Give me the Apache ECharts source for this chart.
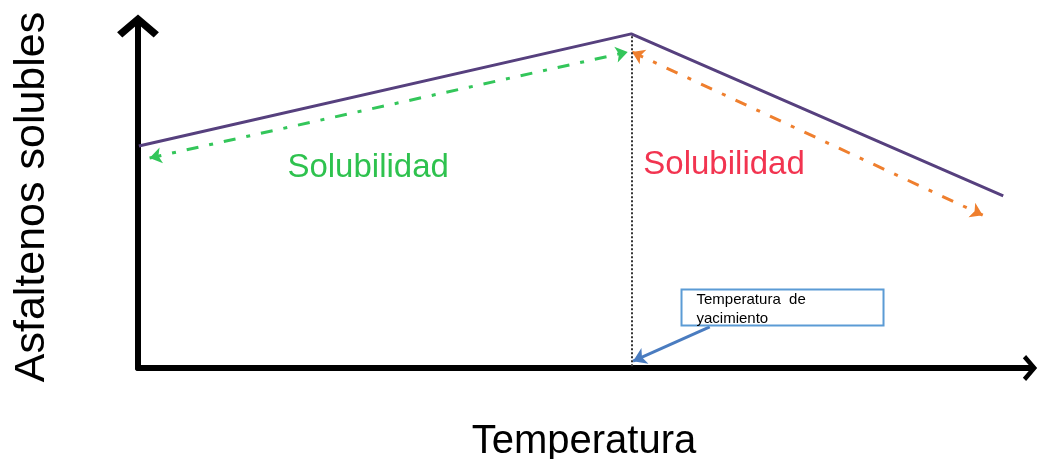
<!DOCTYPE html>
<html>
<head>
<meta charset="utf-8">
<script src="https://cdn.jsdelivr.net/npm/echarts@6/dist/echarts.min.js"></script>
<style>
  html, body { margin: 0; padding: 0; background: #fff; }
  #main { width: 1049px; height: 459px; }
</style>
</head>
<body>
<div id="main"></div>
<script>
// datos del diagrama (escala 0-100 en ambos ejes)
var solubilityCurve = [[0.1, 64.9], [55.3, 97.7], [97.0, 50.3]];
var risingArrow = [[1.3, 61.4], [54.9, 92.4]];
var fallingArrow = [[55.4, 92.4], [94.7, 44.7]];
var reservoirLine = [[55.3, 97.0], [55.3, 0]];
var pointerArrow = [[64.1, 12.0], [55.5, 2.0]];
var labelLeft = [25.8, 58.5];
var labelRight = [65.7, 59.4];
var boxCorner = [61.1, 22.5];
var labelText = 'Solubilidad';
var boxText = 'Temperatura  de\nyacimiento';

var myChart = echarts.init(document.getElementById('main'));

var chevron = 'path://M20,0 L40,17 L35,22 L20,9 L5,22 L0,17 Z';

var option = {
  animation: false,
  textStyle: { fontFamily: 'Liberation Sans' },
  grid: { left: 138, right: 19, top: 26, bottom: 91, outerBoundsMode: 'none' },
  xAxis: {
    type: 'value',
    min: 0,
    max: 100,
    name: 'Temperatura',
    nameLocation: 'middle',
    nameGap: 54,
    nameTextStyle: { fontSize: 40, color: '#000' },
    axisLine: {
      lineStyle: { color: '#000', width: 6 },
      symbol: ['none', chevron],
      symbolSize: [26, 35]
    },
    axisTick: { show: false },
    axisLabel: { show: false },
    splitLine: { show: false }
  },
  yAxis: {
    type: 'value',
    min: 0,
    max: 100,
    name: 'Asfaltenos solubles',
    nameLocation: 'middle',
    nameGap: 84,
    nameTextStyle: { fontSize: 43, color: '#000' },
    axisLine: {
      lineStyle: { color: '#000', width: 6 },
      symbol: ['none', chevron],
      symbolSize: [43, 23]
    },
    axisTick: { show: false },
    axisLabel: { show: false },
    splitLine: { show: false }
  },
  series: [
    {
      type: 'line',
      data: solubilityCurve,
      symbol: 'none',
      lineStyle: { color: '#56407e', width: 3 },
      z: 5
    },
    {
      type: 'lines',
      coordinateSystem: 'cartesian2d',
      symbol: ['arrow', 'arrow'],
      symbolSize: 12,
      data: [{ coords: risingArrow }],
      lineStyle: { color: '#33c65a', width: 3, type: [12, 11, 4, 11], opacity: 1 }
    },
    {
      type: 'lines',
      coordinateSystem: 'cartesian2d',
      symbol: ['arrow', 'arrow'],
      symbolSize: 12,
      data: [{ coords: fallingArrow }],
      lineStyle: { color: '#ef7f2e', width: 3, type: [12, 11, 4, 11], opacity: 1 }
    },
    {
      type: 'lines',
      coordinateSystem: 'cartesian2d',
      symbol: 'none',
      data: [{ coords: reservoirLine }],
      lineStyle: { color: '#333', width: 2, type: [2, 2], opacity: 1 }
    },
    {
      type: 'lines',
      coordinateSystem: 'cartesian2d',
      symbol: ['none', 'arrow'],
      symbolSize: 13,
      data: [{ coords: pointerArrow }],
      lineStyle: { color: '#4a7cc0', width: 3, opacity: 1 }
    },
    {
      type: 'scatter',
      symbolSize: 1,
      itemStyle: { color: 'rgba(0,0,0,0)', opacity: 1 },
      data: [
        { value: labelLeft, label: { color: '#2ec24e' } },
        { value: labelRight, label: { color: '#f23450' } }
      ],
      label: {
        show: true,
        position: 'inside',
        formatter: labelText,
        fontSize: 33,
        textBorderWidth: 0
      }
    },
    {
      type: 'scatter',
      symbolSize: 1,
      itemStyle: { color: 'rgba(0,0,0,0)', opacity: 1 },
      data: [boxCorner],
      label: {
        show: true,
        position: [0, 0],
        formatter: boxText,
        fontSize: 15,
        lineHeight: 19,
        color: '#000',
        backgroundColor: '#fff',
        borderColor: '#5b9bd5',
        borderWidth: 2,
        width: 186,
        height: 34,
        padding: [0, 0, 0, 14],
        verticalAlign: 'top',
        align: 'left'
      }
    }
  ]
};

myChart.setOption(option);
</script>
</body>
</html>
